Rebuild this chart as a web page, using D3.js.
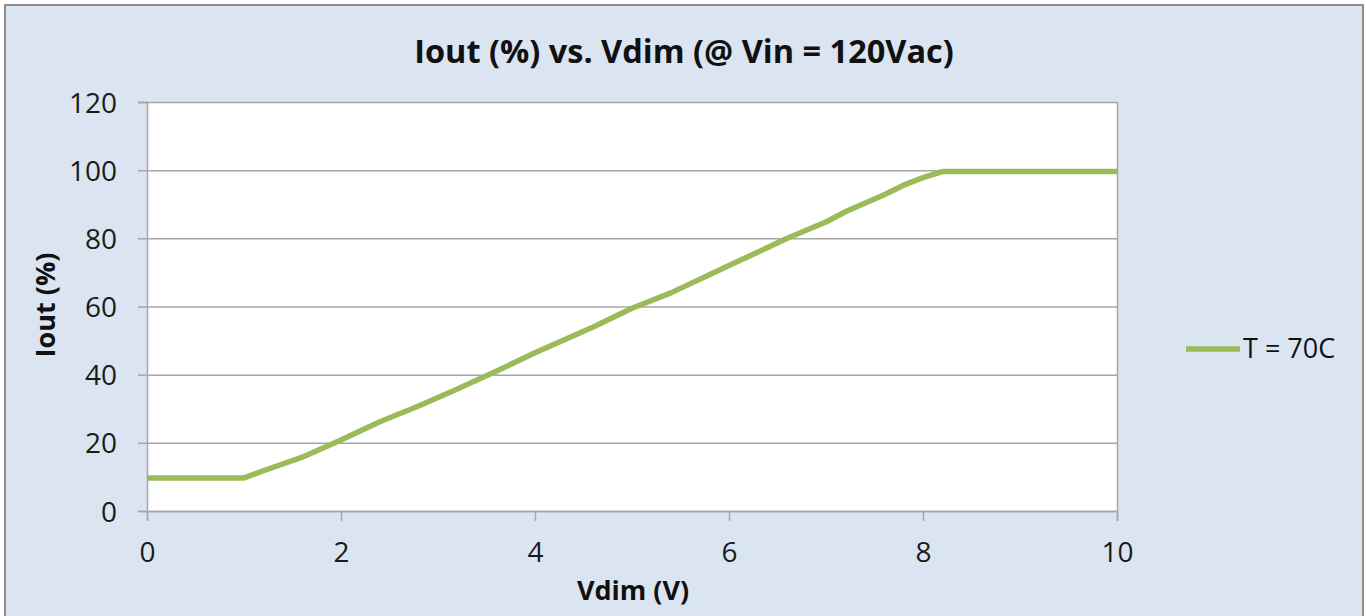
<!DOCTYPE html>
<html><head><meta charset="utf-8">
<script src="https://cdn.jsdelivr.net/npm/d3@7"></script>
<style>html,body{margin:0;padding:0;background:#fff;overflow:hidden}svg{display:block}</style>
</head><body><svg id="c" width="1366" height="616"></svg>
<script>
const vdim = [0, 1.0, 1.2, 1.6, 2.0, 2.4, 2.8, 3.2, 3.6, 4.0, 4.6, 5.0, 5.4, 6.0, 6.6, 7.0, 7.2, 7.6, 7.8, 8.0, 8.2, 10];
const iout = [9.7, 9.7, 11.8, 15.8, 20.8, 26.2, 30.8, 35.8, 41.0, 46.4, 54.0, 59.5, 64.0, 72.0, 80.0, 84.8, 87.8, 92.8, 95.6, 97.8, 99.6, 99.6];
const xTicks = [0, 2, 4, 6, 8, 10];
const yTicks = [0, 20, 40, 60, 80, 100, 120];
const seriesName = "T = 70C";
const title = "Iout (%) vs. Vdim (@ Vin = 120Vac)";
const xTitle = "Vdim (V)";
const yTitle = "Iout (%)";

const F = "'Open Sans', 'Noto Sans', sans-serif";
const svg = d3.select("#c");
svg.append("rect").attr("x",5).attr("y",5).attr("width",1358).attr("height",640)
  .attr("fill","#dbe5f1").attr("stroke","#8c8c8c").attr("stroke-width",2);

const L=147, R=1117, T=102, B=511;
const x = d3.scaleLinear().domain([0,10]).range([L,R]);
const y = d3.scaleLinear().domain([0,120]).range([B,T]);

svg.append("rect").attr("x",L).attr("y",T).attr("width",R-L).attr("height",B-T).attr("fill","#fff");

svg.append("g").selectAll("line").data(yTicks).join("line")
  .attr("x1",L).attr("x2",R).attr("y1",d=>y(d)+0.5).attr("y2",d=>y(d)+0.5)
  .attr("stroke","#a6a6a6").attr("stroke-width",1.5);
svg.append("line").attr("x1",R+0.5).attr("x2",R+0.5).attr("y1",T).attr("y2",B).attr("stroke","#a6a6a6").attr("stroke-width",1.5);

const yAxis = svg.append("g").attr("transform",`translate(${L},0)`)
  .call(d3.axisLeft(y).tickValues(yTicks).tickSize(9).tickPadding(21));
const xAxis = svg.append("g").attr("transform",`translate(0,${B})`)
  .call(d3.axisBottom(x).tickValues(xTicks).tickSize(10));
[yAxis,xAxis].forEach(a=>{
  a.selectAll("path").attr("stroke","#a6a6a6").attr("stroke-width",1.5);
  a.selectAll("line").attr("stroke","#a6a6a6").attr("stroke-width",1.5);
  a.selectAll("text").attr("font-family",F).attr("font-size",28).attr("fill","#1a1a1a");
});
yAxis.selectAll("text").attr("x",-30).attr("dy","0.36em");
xAxis.selectAll("text").attr("y",51).attr("dy",null);

const data = vdim.map((v,i)=>[v,iout[i]]);
svg.append("path").datum(data)
  .attr("d", d3.line().x(d=>x(d[0])).y(d=>y(d[1])))
  .attr("fill","none").attr("stroke","#9bbb59").attr("stroke-width",5.5).attr("stroke-linejoin","round");

svg.append("text").attr("x",684).attr("y",63).attr("text-anchor","middle")
  .attr("font-family",F).attr("font-weight","bold").attr("font-size",32.5).attr("fill","#111").text(title);
svg.append("text").attr("x",633).attr("y",600).attr("text-anchor","middle")
  .attr("font-family",F).attr("font-weight","bold").attr("font-size",27).attr("fill","#111").text(xTitle);
svg.append("text").attr("transform","translate(55,305) rotate(-90)").attr("text-anchor","middle")
  .attr("font-family",F).attr("font-weight","bold").attr("font-size",27).attr("fill","#111").text(yTitle);

svg.append("line").attr("x1",1186).attr("x2",1240).attr("y1",349).attr("y2",349)
  .attr("stroke","#9bbb59").attr("stroke-width",5.5);
svg.append("text").attr("x",1243).attr("y",358).attr("font-family",F).attr("font-size",27).attr("fill","#111").text(seriesName);
</script></body></html>
